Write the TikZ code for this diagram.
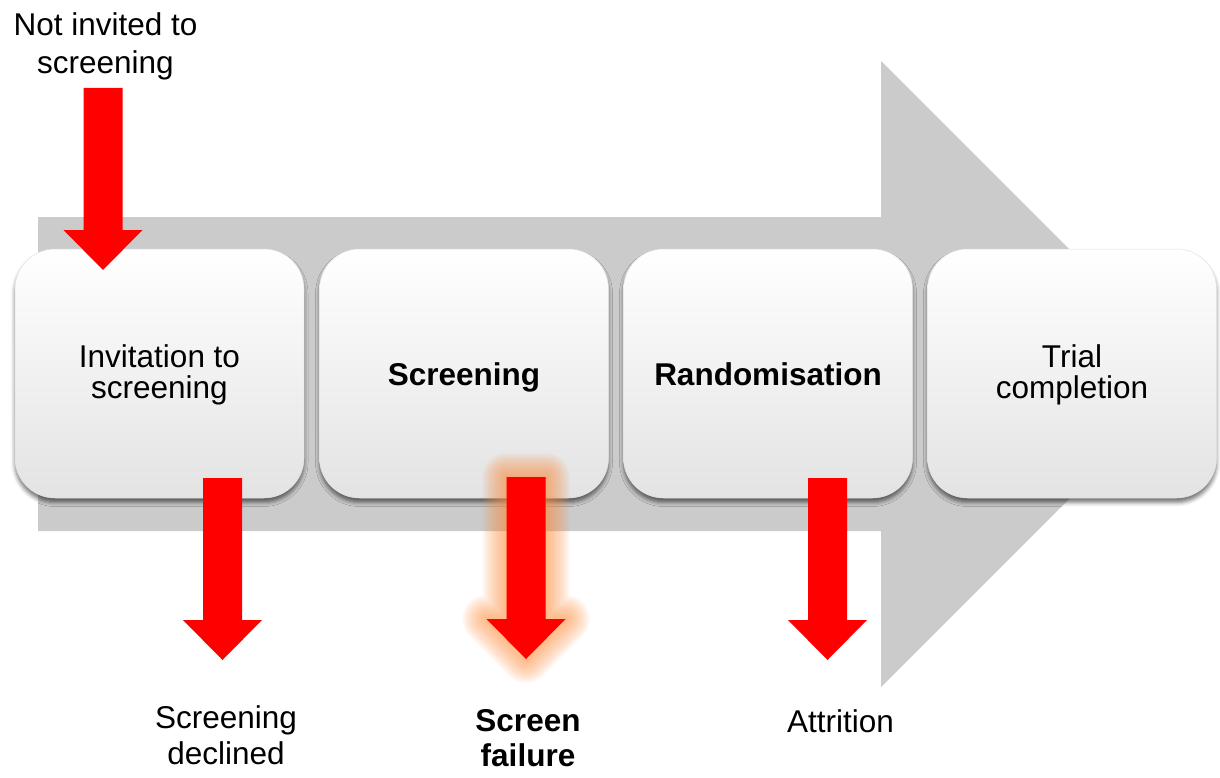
\documentclass[tikz,border=0pt]{standalone}
\usepackage{fontspec}
\setmainfont{Liberation Sans}
\usetikzlibrary{shadows.blur}
\definecolor{arrowgray}{HTML}{CBCBCB}
\definecolor{boxbot}{HTML}{E3E3E3}
\definecolor{boxline}{HTML}{E2E2E2}
\definecolor{glowcol}{HTML}{FF8C3C}
\definecolor{redarr}{HTML}{FF0000}
\tikzset{
  stagebox/.style={rounded corners=40pt, minimum width=289pt, minimum height=249pt,
    inner sep=0pt, draw=boxline, line width=0.5pt,
    top color=white, middle color=white, bottom color=boxbot,
    blur shadow={shadow xshift=0pt, shadow yshift=-4.5pt, shadow blur radius=4pt, shadow opacity=55}},
  lbl/.style={font=\fontsize{31.5}{31}\selectfont, align=center, inner sep=0pt},
  redarrowshape/.pic={
    \fill[redarr] (-19.5,0) -- (19.5,0) -- (19.5,142) -- (39.5,142) -- (0,182)
      -- (-39.5,142) -- (-19.5,142) -- cycle;
  },
  glowshape/.pic={
    \foreach \w in {48,44,40,36,32,28,24,20,16,12,8,4}{
      \draw[glowcol, opacity=0.07, line width=\w pt, line join=round, fill=glowcol, fill opacity=0.07]
        (-19.5,0) -- (19.5,0) -- (19.5,142) -- (39.5,142) -- (0,182)
        -- (-39.5,142) -- (-19.5,142) -- cycle;
    }
  }
}
\begin{document}
\begin{tikzpicture}[x=1pt,y=-1pt]
\useasboundingbox (0,0) rectangle (1220,778);
% big gray arrow
\fill[arrowgray] (38,217) -- (881,217) -- (881,61) -- (1194,374) -- (881,687)
  -- (881,531) -- (38,531) -- cycle;
% stage boxes
\node[stagebox] (b1) at (159.5,373.5) {};
\node[stagebox] (b2) at (464,373.5) {};
\node[stagebox] (b3) at (768,373.5) {};
\node[stagebox] (b4) at (1072,373.5) {};
% box labels
\node[lbl] (t1) at (159.5,375) {Invitation to\\screening};
\node[lbl, font=\fontsize{31.5}{31}\selectfont\bfseries, anchor=base] (t2) at (464,385) {Screening};
\node[lbl, font=\fontsize{31.5}{31}\selectfont\bfseries, anchor=base] (t3) at (768,385) {Randomisation};
\node[lbl] (t4) at (1072,374.5) {Trial\\completion};
% outside labels
\node[lbl, font=\fontsize{31.5}{38.5}\selectfont] (notinv) at (105.5,46.25) {Not invited to\\screening};
\node[lbl, font=\fontsize{31.5}{36}\selectfont] (declined) at (226,735.7) {Screening\\declined};
\node[lbl, font=\fontsize{31.5}{35}\selectfont\bfseries] (failure) at (528,738) {Screen\\failure};
\node[lbl, anchor=base] (attrition) at (840.5,732) {Attrition};
% red arrows
\pic (a1) at (103,88) {redarrowshape};
\pic (a2) at (222.5,478) {redarrowshape};
\pic (g3) at (526,477) {glowshape};
\pic (a3) at (526,477) {redarrowshape};
\pic (a4) at (827.5,478) {redarrowshape};
\end{tikzpicture}
\end{document}
